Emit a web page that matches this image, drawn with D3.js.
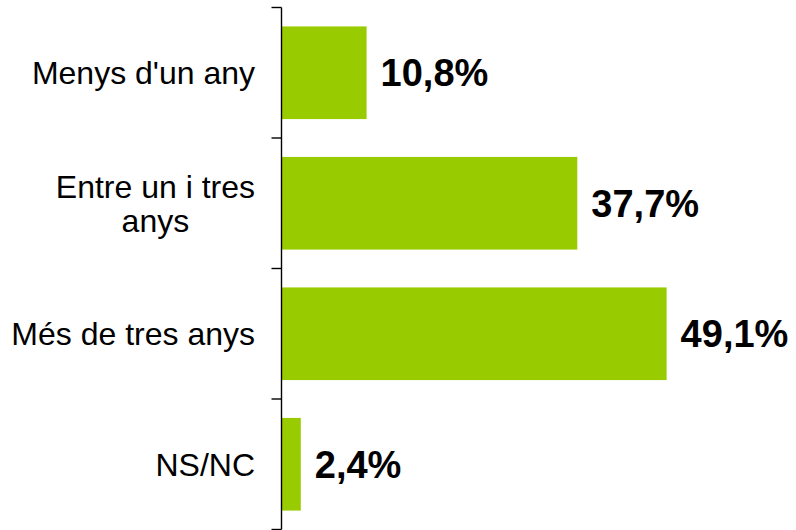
<!DOCTYPE html>
<html lang="ca">
<head>
  <meta charset="UTF-8">
  <title>Temps</title>
  <script src="https://d3js.org/d3.v7.min.js"></script>
  <style>
    body {
      margin: 0;
      padding: 0;
      background: #ffffff;
      font-family: "Liberation Sans", Arial, sans-serif;
    }
  </style>
</head>
<body>
  <script>
    // data
    const categories = ["Menys d'un any", "Entre un i tres anys", "Més de tres anys", "NS/NC"];
    const values = [10.8, 37.7, 49.1, 2.4];
    const valueLabels = ["10,8%", "37,7%", "49,1%", "2,4%"];

    const width = 796;
    const height = 530;

    const svg = d3.create("svg")
        .attr("width", width)
        .attr("height", height)
        .attr("style", "display: block; font-family: 'Liberation Sans', Arial, sans-serif;");

    const axisX = 281.5;

    const y = d3.scaleBand()
        .domain(categories)
        .range([7.5, 529.5])
        .paddingInner(0.29)
        .paddingOuter(0.145);

    const x = d3.scaleLinear()
        .domain([0, 60])
        .range([axisX + 0.5, axisX + 0.5 + 470]);

    const rows = categories.map((c, i) => ({ name: c, value: values[i], label: valueLabels[i] }));

    // bars
    svg.append("g")
        .attr("fill", "#99cc00")
      .selectAll("rect")
      .data(rows)
      .join("rect")
        .attr("x", x(0))
        .attr("y", d => y(d.name))
        .attr("width", d => x(d.value) - x(0))
        .attr("height", y.bandwidth());

    // axis line with ticks at the band boundaries
    const step = y.step();
    const bounds = categories.map(c => y(c) - y.paddingInner() * step / 2);
    bounds.push(bounds[bounds.length - 1] + step);

    const axis = svg.append("g")
        .attr("stroke", "#000")
        .attr("stroke-width", 1.4);

    axis.append("line")
        .attr("x1", axisX).attr("x2", axisX)
        .attr("y1", bounds[0]).attr("y2", bounds[bounds.length - 1]);

    axis.selectAll("line.tick")
      .data(bounds)
      .join("line")
        .attr("class", "tick")
        .attr("x1", axisX - 10).attr("x2", axisX)
        .attr("y1", d => d).attr("y2", d => d);

    // value labels
    svg.append("g")
        .attr("font-size", 38)
        .attr("font-weight", "bold")
        .attr("fill", "#000")
      .selectAll("text")
      .data(rows)
      .join("text")
        .attr("x", d => x(d.value) + 14)
        .attr("y", d => y(d.name) + y.bandwidth() / 2)
        .attr("dy", "0.36em")
        .text(d => d.label);

    // category labels, wrapped when wider than the space
    const labelG = svg.append("g")
        .attr("font-size", 32)
        .attr("fill", "#000");

    document.body.appendChild(svg.node());

    const maxW = 250;
    const lineH = 34;
    const labelRight = 255;

    rows.forEach(d => {
      const t = labelG.append("text");
      const words = d.name.split(" ");
      let lines = [];
      let cur = [];
      words.forEach(w => {
        cur.push(w);
        t.text(cur.join(" "));
        if (t.node().getComputedTextLength() > maxW && cur.length > 1) {
          cur.pop();
          lines.push(cur.join(" "));
          cur = [w];
        }
      });
      lines.push(cur.join(" "));
      t.text(null);

      // widths of the lines, block is right-aligned, lines centred in it
      const widths = lines.map(l => {
        t.text(l);
        const w = t.node().getComputedTextLength();
        t.text(null);
        return w;
      });
      const blockW = d3.max(widths);
      const cx = labelRight - blockW / 2;
      const cy = y(d.name) + y.bandwidth() / 2;
      const first = cy - (lines.length - 1) * lineH / 2;

      t.attr("text-anchor", "middle");
      lines.forEach((l, i) => {
        t.append("tspan")
            .attr("x", cx)
            .attr("y", first + i * lineH)
            .attr("dy", "0.36em")
            .text(l);
      });
    });
  </script>
</body>
</html>
